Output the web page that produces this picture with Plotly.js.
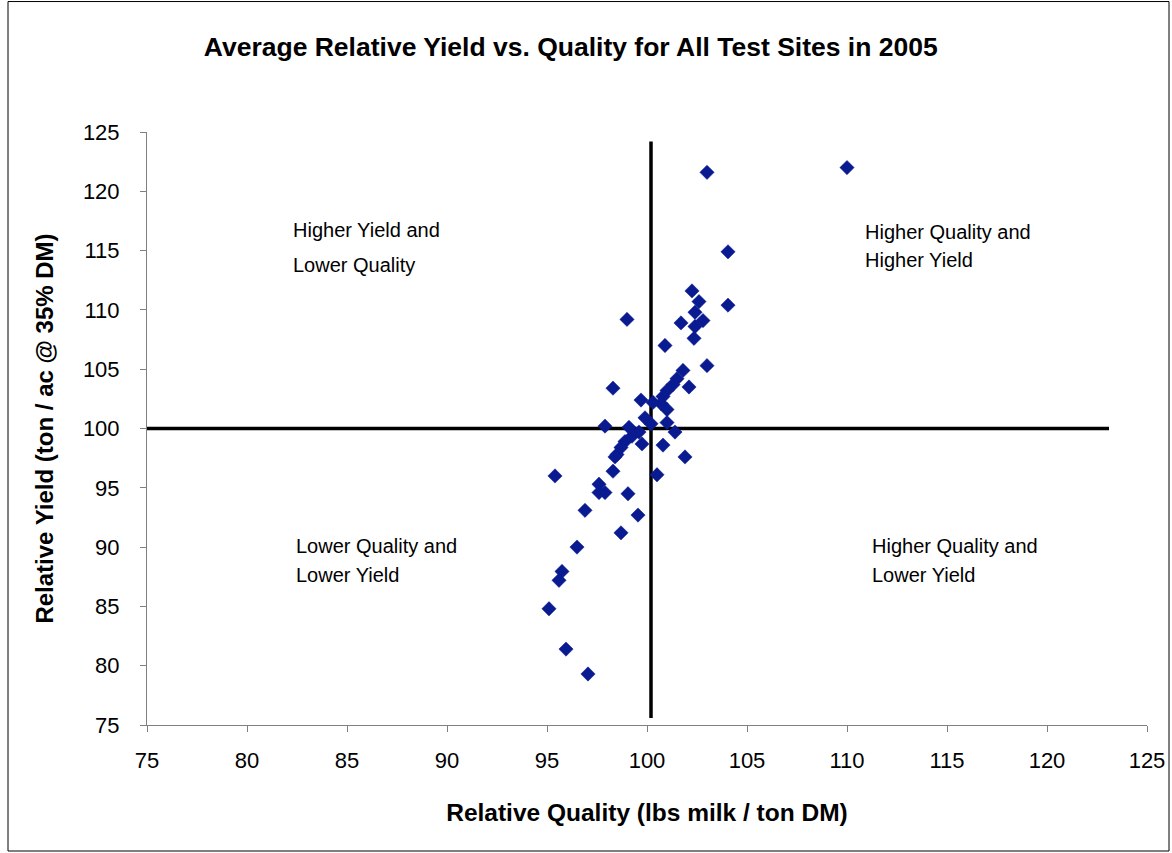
<!DOCTYPE html>
<html>
<head>
<meta charset="utf-8">
<script src="https://cdn.plot.ly/plotly-3.0.1.min.js"></script>
<style>
  html, body { margin: 0; padding: 0; background: #ffffff; }
  #chart { width: 1172px; height: 853px; }
</style>
</head>
<body>
<div id="chart"></div>
<script>
// Relative Quality (x) and Relative Yield (y) for each hybrid
const relQuality = [
  110.0, 103.0, 104.05, 102.25, 102.6, 104.05, 102.4, 99.0, 102.8, 101.7,
  102.4, 102.35, 100.9, 103.0, 101.8, 101.5, 101.3, 101.0, 100.8, 100.7,
  102.1, 98.3, 99.7, 100.3, 101.0, 99.9, 100.2, 101.0, 97.9, 99.1,
  101.4, 99.6, 99.25, 98.9, 99.75, 98.7, 100.8, 98.5, 98.4, 101.9,
  98.3, 100.5, 95.4, 97.6, 97.9, 97.6, 99.05, 96.9, 99.55, 98.7,
  96.5, 95.75, 95.6, 95.1, 95.95, 97.05
];
const relYield = [
  122.0, 121.6, 114.9, 111.6, 110.7, 110.4, 109.8, 109.2, 109.1, 108.9,
  108.6, 107.6, 107.0, 105.3, 104.9, 104.2, 103.7, 103.2, 102.7, 102.1,
  103.5, 103.4, 102.4, 102.2, 101.6, 100.9, 100.4, 100.5, 100.2, 100.1,
  99.7, 99.7, 99.35, 98.9, 98.7, 98.4, 98.6, 97.8, 97.6, 97.6,
  96.4, 96.1, 96.0, 95.3, 94.6, 94.6, 94.5, 93.1, 92.7, 91.2,
  90.0, 87.95, 87.2, 84.8, 81.4, 79.3
];

// Reference (average) lines
const vLineX = [100.2, 100.2];
const vLineY = [75.6, 124.2];
const hLineX = [75, 123.1];
const hLineY = [100, 100];

// Axis ticks
const tickVals = [75, 80, 85, 90, 95, 100, 105, 110, 115, 120, 125];

const quadrantLabels = [
  { lines: ["Higher Yield and", "Lower Quality"], x: 82.2, y: [116.7, 113.8] },
  { lines: ["Higher Quality and", "Higher Yield"], x: 110.8, y: [116.6, 114.2] },
  { lines: ["Lower Quality and", "Lower Yield"], x: 82.35, y: [90.1, 87.65] },
  { lines: ["Higher Quality and", "Lower Yield"], x: 111.15, y: [90.1, 87.65] }
];

const FONT = "Liberation Sans, Arial, sans-serif";

const traces = [
  {
    x: vLineX, y: vLineY, mode: "lines", type: "scatter",
    line: { color: "#000000", width: 3.5 }, hoverinfo: "skip", showlegend: false
  },
  {
    x: hLineX, y: hLineY, mode: "lines", type: "scatter",
    line: { color: "#000000", width: 3.5 }, hoverinfo: "skip", showlegend: false
  },
  {
    x: relQuality, y: relYield, mode: "markers", type: "scatter",
    marker: { symbol: "diamond", size: 11, color: "#0a1a90",
              line: { color: "#0a1a90", width: 0.5 } },
    showlegend: false
  }
];

const annotations = [];
quadrantLabels.forEach(q => {
  q.lines.forEach((t, i) => {
    annotations.push({
      text: t, x: q.x, y: q.y[i], xref: "x", yref: "y",
      xanchor: "left", yanchor: "middle", showarrow: false,
      font: { family: FONT, size: 20, color: "#000000" }
    });
  });
});

const layout = {
  width: 1172, height: 853,
  margin: { l: 147, r: 25, t: 132, b: 128 },
  paper_bgcolor: "#ffffff", plot_bgcolor: "#ffffff",
  showlegend: false,
  title: {
    text: "<b>Average Relative Yield vs. Quality for All Test Sites in 2005</b>",
    font: { family: FONT, size: 26.5, color: "#000000" },
    x: 0.487, xanchor: "center", y: 0.945, yanchor: "middle"
  },
  xaxis: {
    range: [75, 125], tickvals: tickVals, ticktext: tickVals.map(String),
    showgrid: false, zeroline: false,
    showline: true, linecolor: "#808080", linewidth: 1,
    ticks: "outside", ticklen: 6, tickcolor: "#808080", tickwidth: 1,
    ticklabelstandoff: 10,
    tickfont: { family: FONT, size: 22, color: "#000000" },
    title: { text: "<b>Relative Quality (lbs milk / ton DM)</b>",
             font: { family: FONT, size: 24.5, color: "#000000" }, standoff: 31 }
  },
  yaxis: {
    range: [75, 125], tickvals: tickVals, ticktext: tickVals.map(String),
    showgrid: false, zeroline: false,
    showline: true, linecolor: "#808080", linewidth: 1,
    ticks: "outside", ticklen: 6, tickcolor: "#808080", tickwidth: 1,
    ticklabelstandoff: 16,
    tickfont: { family: FONT, size: 22, color: "#000000" },
    title: { text: "<b>Relative Yield (ton / ac @ 35% DM)</b>",
             font: { family: FONT, size: 24, color: "#000000" }, standoff: 22 }
  },
  annotations: annotations,
  shapes: [
    { type: "rect", xref: "paper", yref: "paper",
      x0: -0.139, x1: 1.022, y0: -0.2125, y1: 1.22,
      line: { color: "#000000", width: 1 }, fillcolor: "rgba(0,0,0,0)", layer: "below" }
  ]
};

Plotly.newPlot("chart", traces, layout, { displayModeBar: false, staticPlot: true });
</script>
</body>
</html>
